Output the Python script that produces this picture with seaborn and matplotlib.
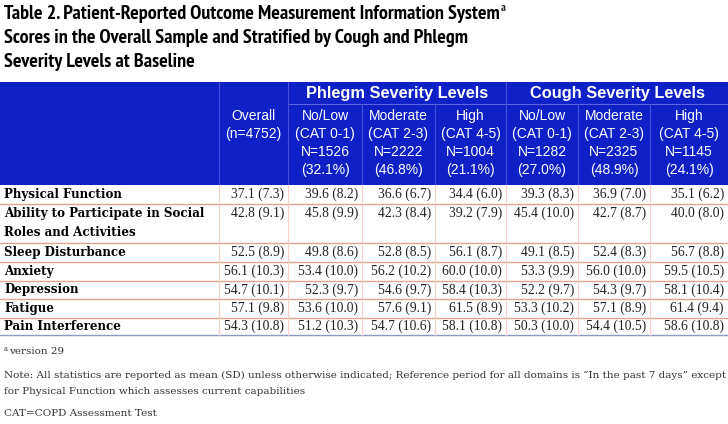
import matplotlib
matplotlib.use("Agg")
import matplotlib.pyplot as plt
from matplotlib import font_manager
import seaborn as sns

# ---- data ----
domains = ["Physical Function", "Ability to Participate in Social\nRoles and Activities",
           "Sleep Disturbance", "Anxiety", "Depression", "Fatigue", "Pain Interference"]

group_names = ["Overall", "No/Low", "Moderate", "High", "No/Low", "Moderate", "High"]
cat_ranges = ["", "CAT 0-1", "CAT 2-3", "CAT 4-5", "CAT 0-1", "CAT 2-3", "CAT 4-5"]
group_n = [4752, 1526, 2222, 1004, 1282, 2325, 1145]
group_pct = [None, 32.1, 46.8, 21.1, 27.0, 48.9, 24.1]

overall_mean = [37.1, 42.8, 52.5, 56.1, 54.7, 57.1, 54.3]
overall_sd = [7.3, 9.1, 8.9, 10.3, 10.1, 9.8, 10.8]
phlegm_low_mean = [39.6, 45.8, 49.8, 53.4, 52.3, 53.6, 51.2]
phlegm_low_sd = [8.2, 9.9, 8.6, 10.0, 9.7, 10.0, 10.3]
phlegm_mod_mean = [36.6, 42.3, 52.8, 56.2, 54.6, 57.6, 54.7]
phlegm_mod_sd = [6.7, 8.4, 8.5, 10.2, 9.7, 9.1, 10.6]
phlegm_high_mean = [34.4, 39.2, 56.1, 60.0, 58.4, 61.5, 58.1]
phlegm_high_sd = [6.0, 7.9, 8.7, 10.0, 10.3, 8.9, 10.8]
cough_low_mean = [39.3, 45.4, 49.1, 53.3, 52.2, 53.3, 50.3]
cough_low_sd = [8.3, 10.0, 8.5, 9.9, 9.7, 10.2, 10.0]
cough_mod_mean = [36.9, 42.7, 52.4, 56.0, 54.3, 57.1, 54.4]
cough_mod_sd = [7.0, 8.7, 8.3, 10.0, 9.7, 8.9, 10.5]
cough_high_mean = [35.1, 40.0, 56.7, 59.5, 58.1, 61.4, 58.6]
cough_high_sd = [6.2, 8.0, 8.8, 10.5, 10.4, 9.4, 10.8]

means = [overall_mean, phlegm_low_mean, phlegm_mod_mean, phlegm_high_mean,
         cough_low_mean, cough_mod_mean, cough_high_mean]
sds = [overall_sd, phlegm_low_sd, phlegm_mod_sd, phlegm_high_sd,
       cough_low_sd, cough_mod_sd, cough_high_sd]

title_lines = ["Table 2. Patient-Reported Outcome Measurement Information System",
               "Scores in the Overall Sample and Stratified by Cough and Phlegm",
               "Severity Levels at Baseline"]
note_lines = ["Note: All statistics are reported as mean (SD) unless otherwise indicated; "
              "Reference period for all domains is \u201cIn the past 7 days\u201d except",
              "for Physical Function which assesses current capabilities"]

# ---- layout (pixels) ----
col_edges = [0, 219, 288, 362, 435, 506, 578, 650, 728]
row_edges = [185, 204, 243, 262, 281, 299, 318, 335]
BLUE = "#0E20C6"
ROW_LINE = "#E9A08C"
COL_LINE = "#F6CFC8"


def pick_narrow():
    # a narrow bold sans like Arial Narrow, if one is installed
    wanted = ["Liberation Sans Narrow", "Arial Narrow", "PT Sans Narrow", "Roboto Condensed",
              "Fira Sans Condensed", "IBM Plex Sans Condensed", "Archivo Narrow"]
    bold = {f.name for f in font_manager.fontManager.ttflist
            if f.weight in (700, "bold") and "[" not in f.fname}
    for name in wanted:
        if name in bold:
            return name
    return None


sns.set_theme(style="white")
plt.rcParams["font.family"] = ["Liberation Sans", "DejaVu Sans"]

fig = plt.figure(figsize=(7.28, 4.24), dpi=100)
ax = fig.add_axes([0, 0, 1, 1])
ax.set_xlim(0, 728)
ax.set_ylim(424, 0)
ax.axis("off")

# title
narrow_name = pick_narrow()
narrow = [narrow_name, "Liberation Sans"] if narrow_name else ["Liberation Sans"]
title_size = 14.5 if narrow_name else 11
title_y = [14, 38, 62]
renderer = fig.canvas.get_renderer()
for i, (line, y) in enumerate(zip(title_lines, title_y)):
    t = ax.text(4, y, line, fontsize=title_size, fontweight="bold", family=narrow,
                va="center", ha="left", color="black")
    if i == 0:
        bb = t.get_window_extent(renderer=renderer).transformed(ax.transData.inverted())
        ax.text(bb.x1 + 1, y - 6, "a", fontsize=8.5, fontweight="bold",
                family=narrow, va="center", ha="left")

# header block
ax.add_patch(plt.Rectangle((0, 82), 728, row_edges[0] - 82, color=BLUE, lw=0))
ax.plot([col_edges[2], 728], [104, 104], color="#5B63E0", lw=0.8)
for j, x in enumerate(col_edges[1:-1], start=1):
    top = 82 if j in (1, 2, 5) else 104
    ax.plot([x, x], [top, row_edges[0]], color="#4A4FD8", lw=0.8)

ax.text((col_edges[2] + col_edges[5]) / 2, 93.5, "Phlegm Severity Levels", color="white",
        fontsize=11.8, fontweight="bold", ha="center", va="center")
ax.text((col_edges[5] + col_edges[8]) / 2, 93.5, "Cough Severity Levels", color="white",
        fontsize=11.8, fontweight="bold", ha="center", va="center")

for j in range(7):
    cx = (col_edges[j + 1] + col_edges[j + 2]) / 2
    if group_pct[j] is None:
        lines = [group_names[j], f"(n={group_n[j]})"]
    else:
        lines = [group_names[j], f"({cat_ranges[j]})", f"N={group_n[j]}", f"({group_pct[j]:.1f}%)"]
    for k, s in enumerate(lines):
        ax.text(cx, 116 + 18 * k, s, color="white", fontsize=10,
                ha="center", va="center")

# body grid
for y in row_edges[1:-1]:
    ax.plot([0, 728], [y, y], color=ROW_LINE, lw=1.0)
ax.plot([0, 728], [row_edges[-1], row_edges[-1]], color="#8C9CC0", lw=1.0)
for x in col_edges[1:-1]:
    ax.plot([x, x], [row_edges[0], row_edges[-1]], color=COL_LINE, lw=0.8)

for i, dom in enumerate(domains):
    top, bot = row_edges[i], row_edges[i + 1]
    yc = top + 9.5 if "\n" in dom else (top + bot) / 2
    for k, part in enumerate(dom.split("\n")):
        ax.text(4, yc + 19 * k, part, family=["DejaVu Serif"], fontweight="bold",
                fontsize=8.6, ha="left", va="center", color="black")
    for j in range(7):
        ax.text(col_edges[j + 2] - 4, yc, f"{means[j][i]:.1f} ({sds[j][i]:.1f})",
                family=["Liberation Serif"], fontsize=9.8, ha="right", va="center",
                color="#222222")

# footnotes
serif = ["DejaVu Serif"]
fn_size = 7.45
ax.text(4, 349, "a", family=serif, fontsize=4.8, va="center", ha="left", color="#333333")
ax.text(9, 352, "version 29", family=serif, fontsize=fn_size, va="center", ha="left", color="#333333")
ax.text(4, 375, note_lines[0], family=serif, fontsize=fn_size, va="center", ha="left", color="#333333")
ax.text(4, 391, note_lines[1], family=serif, fontsize=fn_size, va="center", ha="left", color="#333333")
ax.text(4, 413, "CAT=COPD Assessment Test", family=serif, fontsize=fn_size, va="center", ha="left",
        color="#333333")

fig.savefig("out.png", dpi=100)
